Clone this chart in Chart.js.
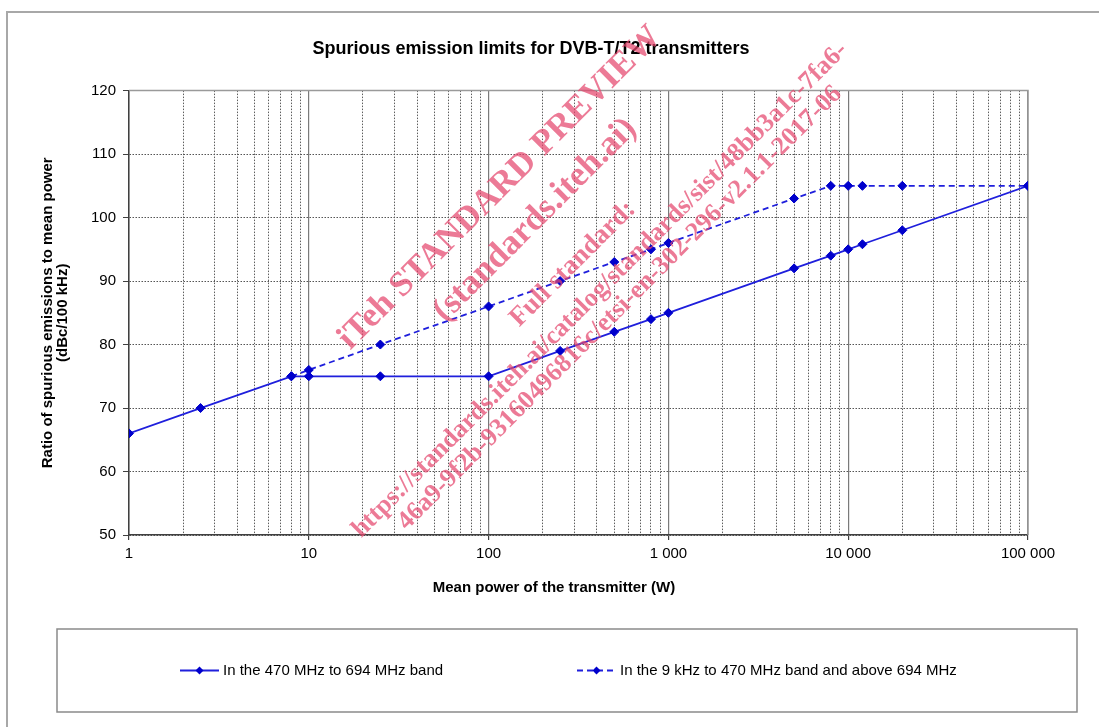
<!DOCTYPE html>
<html>
<head>
<meta charset="utf-8">
<script src="https://cdn.jsdelivr.net/npm/chart.js@4.4.1/dist/chart.umd.min.js"></script>
<style>
  html, body { margin: 0; padding: 0; background: #ffffff; }
  #wrap { width: 1099px; height: 727px; position: relative; }
</style>
</head>
<body>
<div id="wrap"><canvas id="chart" width="1099" height="727"></canvas></div>
<script>
// ---- Data ----
const powerBand470 = [1, 2.5, 8, 10, 25, 100, 250, 500, 800, 1000, 5000, 8000, 10000, 12000, 20000, 100000];
const limitBand470 = [66, 70, 75, 75, 75, 75, 79, 82, 84, 85, 92, 94, 95, 95.8, 98, 105];
const powerOther = [8, 10, 25, 100, 250, 500, 800, 1000, 5000, 8000, 10000, 12000, 20000, 100000];
const limitOther = [75, 76, 80, 86, 90, 93, 95, 96, 103, 105, 105, 105, 105, 105];

const seriesLabels = ['In the 470 MHz to 694 MHz band', 'In the 9 kHz to 470 MHz band and above 694 MHz'];
const chartTitle = 'Spurious emission limits for DVB-T/T2 transmitters';
const xAxisTitle = 'Mean power of the transmitter (W)';
const yAxisTitle = ['Ratio of spurious emissions to mean power', '(dBc/100 kHz)'];

const xMajorValues = [1, 10, 100, 1000, 10000, 100000];
const xTickLabels = ['1', '10', '100', '1 000', '10 000', '100 000'];
const xMinorMultipliers = [2, 3, 4, 5, 6, 7, 8, 9];
const yTickValues = [50, 60, 70, 80, 90, 100, 110, 120];

const watermarkLines = [
  'iTeh STANDARD PREVIEW',
  '(standards.iteh.ai)',
  'Full standard:',
  'https://standards.iteh.ai/catalog/standards/sist/48bb3a1c-7fa6-',
  '46a9-9f2b-93160496816c/etsi-en-302-296-v2.1.1-2017-06'
];

// ---- Grid values (decades + minor lines) ----
const xGridValues = [];
xMajorValues.forEach((d, i) => {
  xGridValues.push(d);
  if (i < xMajorValues.length - 1) xMinorMultipliers.forEach(m => xGridValues.push(d * m));
});
const isMajor = v => xMajorValues.indexOf(v) >= 0;

const FONT = "'Liberation Sans', Arial, sans-serif";
const LINE_BLUE = '#1f1fdc';
const MARK_BLUE = '#0000cc';

const framePlugin = {
  id: 'frame',
  beforeDraw(chart) {
    const ctx = chart.ctx;
    ctx.save();
    ctx.fillStyle = '#ffffff';
    ctx.fillRect(0, 0, chart.width, chart.height);
    ctx.strokeStyle = '#a8a8a8';
    ctx.lineWidth = 2;
    ctx.strokeRect(7, 12, chart.width + 20, chart.height + 20);
    ctx.restore();
  },
  beforeDatasetsDraw(chart) {
    const {ctx, chartArea: a} = chart;
    ctx.save();
    ctx.strokeStyle = '#9a9a9a';
    ctx.lineWidth = 1.5;
    ctx.beginPath();
    ctx.moveTo(a.left, a.top);
    ctx.lineTo(a.right, a.top);
    ctx.lineTo(a.right, a.bottom);
    ctx.stroke();
    ctx.restore();
  },
  afterDraw(chart) {
    const ctx = chart.ctx;
    ctx.save();
    // x axis title (placed as in the reference, left of the axis centre)
    ctx.fillStyle = '#000000';
    ctx.font = 'bold 15px ' + FONT;
    ctx.textAlign = 'center';
    ctx.textBaseline = 'middle';
    ctx.fillText(xAxisTitle, 554, 588);
    // legend box
    ctx.strokeStyle = '#8a8a8a';
    ctx.lineWidth = 1.5;
    ctx.strokeRect(57, 629, 1077 - 57, 712 - 629);
    const ly = 670.5;
    const items = [
      {x0: 180, x1: 219, tx: 223, ds: chart.data.datasets[0]},
      {x0: 577, x1: 616, tx: 620, ds: chart.data.datasets[1]}
    ];
    items.forEach(it => {
      ctx.strokeStyle = it.ds.borderColor;
      ctx.lineWidth = 2;
      ctx.setLineDash(it.ds.borderDash || []);
      ctx.beginPath();
      ctx.moveTo(it.x0, ly);
      ctx.lineTo(it.x1, ly);
      ctx.stroke();
      ctx.setLineDash([]);
      const cx = (it.x0 + it.x1) / 2, r = 4;
      ctx.fillStyle = MARK_BLUE;
      ctx.beginPath();
      ctx.moveTo(cx, ly - r); ctx.lineTo(cx + r, ly); ctx.lineTo(cx, ly + r); ctx.lineTo(cx - r, ly);
      ctx.closePath();
      ctx.fill();
      ctx.fillStyle = '#000000';
      ctx.font = '15px ' + FONT;
      ctx.textAlign = 'left';
      ctx.textBaseline = 'middle';
      ctx.fillText(it.ds.label, it.tx, ly);
    });
    // watermark
    ctx.fillStyle = 'rgba(228, 70, 110, 0.72)';
    ctx.textAlign = 'center';
    ctx.textBaseline = 'middle';
    const wm = [
      {t: watermarkLines[0], x: 500, y: 188, s: 35},
      {t: watermarkLines[1], x: 535, y: 220, s: 35},
      {t: watermarkLines[2], x: 573, y: 264, s: 27},
      {t: watermarkLines[3], x: 600, y: 290, s: 26},
      {t: watermarkLines[4], x: 620, y: 308, s: 26}
    ];
    wm.forEach(w => {
      ctx.save();
      ctx.translate(w.x, w.y);
      ctx.rotate(-Math.PI / 4);
      ctx.font = 'bold ' + w.s + "px 'Liberation Serif', 'DejaVu Serif', serif";
      ctx.fillText(w.t, 0, 0);
      ctx.restore();
    });
    ctx.restore();
  }
};

const chart = new Chart(document.getElementById('chart'), {
  type: 'line',
  data: {
    datasets: [
      {
        label: seriesLabels[0],
        data: powerBand470.map((x, i) => ({x: x, y: limitBand470[i]})),
        borderColor: LINE_BLUE,
        backgroundColor: MARK_BLUE,
        borderWidth: 1.8,
        pointStyle: 'rectRot',
        pointRadius: 4.5,
        pointBackgroundColor: MARK_BLUE,
        pointBorderColor: MARK_BLUE,
        pointBorderWidth: 1,
        tension: 0,
        fill: false
      },
      {
        label: seriesLabels[1],
        data: powerOther.map((x, i) => ({x: x, y: limitOther[i]})),
        borderColor: LINE_BLUE,
        backgroundColor: MARK_BLUE,
        borderWidth: 1.8,
        borderDash: [6, 4],
        pointStyle: 'rectRot',
        pointRadius: 4.5,
        pointBackgroundColor: MARK_BLUE,
        pointBorderColor: MARK_BLUE,
        pointBorderWidth: 1,
        tension: 0,
        fill: false
      }
    ]
  },
  options: {
    responsive: false,
    animation: false,
    devicePixelRatio: 1,
    layout: { padding: { left: 34, right: 71, top: 0, bottom: 122 } },
    plugins: {
      legend: { display: false },
      tooltip: { enabled: false },
      title: {
        display: true,
        text: chartTitle,
        color: '#000000',
        font: { family: FONT, size: 18, weight: 'bold', lineHeight: 1.2 },
        padding: { top: 38, bottom: 31 }
      }
    },
    scales: {
      x: {
        type: 'logarithmic',
        position: 'bottom',
        min: 1,
        max: 100000,
        afterBuildTicks: s => { s.ticks = xGridValues.map(v => ({value: v})); },
        afterFit: s => { s.height = 70; },
        ticks: {
          autoSkip: false,
          maxRotation: 0,
          minRotation: 0,
          padding: 5,
          color: '#000000',
          font: { family: FONT, size: 15 },
          callback: v => { const i = xMajorValues.indexOf(v); return i >= 0 ? xTickLabels[i] : ''; }
        },
        grid: {
          color: ctx => (ctx.tick && isMajor(ctx.tick.value)) ? '#7a7a7a' : 'rgba(0,0,0,0)',
          tickColor: ctx => (ctx.tick && isMajor(ctx.tick.value)) ? '#404040' : 'rgba(0,0,0,0)',
          tickLength: 5,
          lineWidth: 1.2
        },
        border: { color: '#404040', width: 1.5 },
        title: { display: false, text: xAxisTitle }
      },
      x2: {
        type: 'logarithmic',
        position: 'bottom',
        min: 1,
        max: 100000,
        afterBuildTicks: s => { s.ticks = xGridValues.map(v => ({value: v})); },
        afterFit: s => { s.height = 0; },
        ticks: { display: false, autoSkip: false },
        grid: {
          color: ctx => (ctx.tick && isMajor(ctx.tick.value)) ? 'rgba(0,0,0,0)' : '#5e5e5e',
          drawTicks: false,
          lineWidth: 1
        },
        border: { display: false, dash: [1.5, 1.5] }
      },
      y: {
        type: 'linear',
        min: 50,
        max: 120,
        afterBuildTicks: s => { s.ticks = yTickValues.map(v => ({value: v})); },
        afterFit: s => { s.width = 95; },
        ticks: {
          padding: 7,
          color: '#000000',
          font: { family: FONT, size: 15 }
        },
        grid: {
          color: '#555555',
          tickColor: '#404040',
          tickLength: 6,
          tickBorderDash: [],
          lineWidth: 1
        },
        border: { color: '#404040', width: 1.5, dash: [1.5, 1.5] },
        title: {
          display: true,
          text: yAxisTitle,
          color: '#000000',
          font: { family: FONT, size: 15, weight: 'bold', lineHeight: 1 },
          padding: { top: 6.5, bottom: 0 }
        }
      }
    }
  },
  plugins: [framePlugin]
});
</script>
</body>
</html>
